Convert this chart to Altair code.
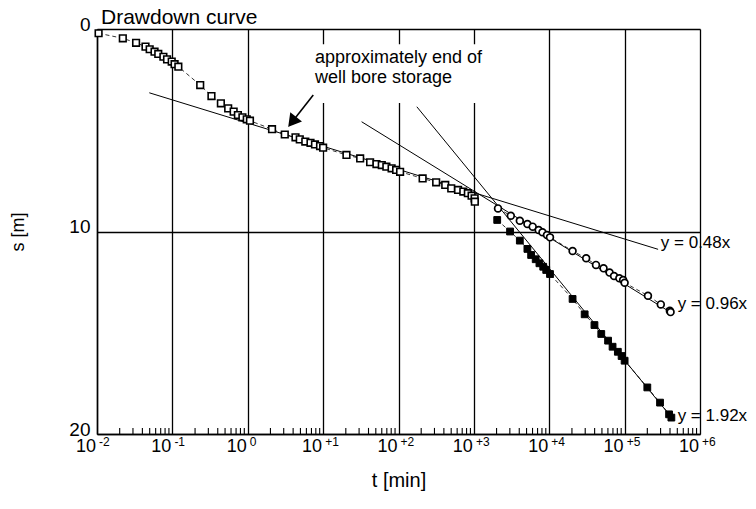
import altair as alt
import pandas as pd

FONT = "Liberation Sans"

# ---------------- data ----------------
# early-time drawdown (open squares)
early_t = [0.0105, 0.022, 0.033, 0.044, 0.050, 0.058, 0.065, 0.076, 0.085, 0.098, 0.107, 0.12,
           0.234, 0.33, 0.44, 0.55, 0.65, 0.74, 0.85, 0.97, 1.07,
           2.1, 3.1, 4.3, 4.9, 5.8, 6.8, 7.8, 9.1, 10.0,
           20.4, 31, 42, 51, 60, 69, 81, 93, 105,
           209, 316, 417, 501, 617, 724, 832, 933, 1023, 1030]
early_s = [0.21, 0.46, 0.68, 0.87, 1.00, 1.12, 1.23, 1.37, 1.50, 1.61, 1.74, 1.86,
           2.77, 3.31, 3.67, 3.92, 4.08, 4.25, 4.36, 4.46, 4.53,
           4.95, 5.21, 5.35, 5.45, 5.56, 5.62, 5.70, 5.78, 5.86,
           6.22, 6.39, 6.58, 6.67, 6.72, 6.80, 6.88, 6.96, 7.05,
           7.38, 7.57, 7.70, 7.87, 7.95, 8.03, 8.11, 8.23, 8.36, 8.53]

# branch following y = 0.96x (circles)
b1_t = [2090, 3090, 4070, 5130, 6030, 7240, 8130, 9330, 10230,
        20400, 30900, 41700, 52500, 63100, 72400, 85100, 95500, 100000,
        204000, 302000, 398000, 407000]
b1_s = [8.86, 9.22, 9.47, 9.63, 9.76, 9.93, 10.04, 10.17, 10.29,
        10.96, 11.32, 11.65, 11.82, 12.03, 12.20, 12.31, 12.40, 12.53,
        13.17, 13.60, 13.91, 13.98]

# branch following y = 1.92x (filled squares)
b2_t = [2040, 3020, 4070, 5130, 5750, 6610, 7410, 8320, 9120, 10230,
        20400, 29500, 39800, 49000, 60300, 69200, 81300, 91200, 100000,
        200000, 295000, 389000, 417000]
b2_s = [9.43, 10.00, 10.45, 10.86, 11.16, 11.37, 11.57, 11.74, 11.90, 12.10,
        13.33, 14.09, 14.62, 15.06, 15.39, 15.69, 15.94, 16.15, 16.38,
        17.70, 18.45, 19.03, 19.19]

# straight-line fits
fit_label = ["y = 0.48x", "y = 0.96x", "y = 1.92x"]
fit_t0 = [0.0494, 32.4, 175]
fit_s0 = [3.15, 4.58, 3.84]
fit_t1 = [278000, 398000, 423000]
fit_s1 = [10.88, 13.97, 19.20]
label_t = [293000, 490000, 490000]
label_s = [10.57, 13.60, 19.12]

# annotation
note_lines = ["approximately end of", "well bore storage"]
note_t = [7.78, 7.78]
note_s = [1.41, 2.43]
note_box_t = [6.7, 1600]
note_box_s = [0.75, 3.65]
arrow_t = [7.4, 3.92]
arrow_s = [3.26, 4.57]

# axis ticks
decades = [1e-2, 1e-1, 1e0, 1e1, 1e2, 1e3, 1e4, 1e5, 1e6]
decade_exp = ["-2", "-1", "0", "+1", "+2", "+3", "+4", "+5", "+6"]
minor_ticks = [m * d for d in decades[:-1] for m in range(2, 10)]
y_ticks = [0, 10, 20]

# ---------------- chart ----------------
W, H = 603, 405
xs = alt.Scale(type="log", domain=[0.01, 1e6], nice=False)
ys = alt.Scale(domain=[0, 20], reverse=True, nice=False, zero=False)

xaxis = alt.Axis(values=decades, grid=True, labels=False, ticks=False, domain=True,
                 title="t [min]", titleFont=FONT, titleFontSize=20, titleFontWeight="normal",
                 titleColor="black", titlePadding=36,
                 gridColor="black", gridWidth=1.3, gridOpacity=1,
                 domainColor="black", domainWidth=1.5)
yaxis = alt.Axis(values=y_ticks, grid=True, ticks=False, domain=True,
                 labelFont=FONT, labelFontSize=19, labelColor="black", labelPadding=7,
                 labelBaseline="alphabetic", labelOffset=1,
                 title="s [m]", titleFont=FONT, titleFontSize=18, titleFontWeight="normal",
                 titleColor="black", titlePadding=41,
                 gridColor="black", gridWidth=1.3, gridOpacity=1,
                 domainColor="black", domainWidth=1.5)


def X(f):
    return alt.X(f, type="quantitative", scale=xs, axis=xaxis)


def Y(f):
    return alt.Y(f, type="quantitative", scale=ys, axis=yaxis)


early = pd.DataFrame({"t": early_t, "s": early_s, "g": "early"})
b1 = pd.DataFrame({"t": b1_t, "s": b1_s, "g": "b1"})
b2 = pd.DataFrame({"t": b2_t, "s": b2_s, "g": "b2"})
alld = pd.concat([early, b1, b2], ignore_index=True)

fits = pd.DataFrame({"lab": fit_label, "t0": fit_t0, "s0": fit_s0, "t1": fit_t1, "s1": fit_s1,
                     "lt": label_t, "ls": label_s})
box = pd.DataFrame({"t0": [note_box_t[0]], "t1": [note_box_t[1]],
                    "s0": [note_box_s[0]], "s1": [note_box_s[1]]})
notes = pd.DataFrame({"txt": note_lines, "t": note_t, "s": note_s})
arrow = pd.DataFrame({"t0": [arrow_t[0]], "s0": [arrow_s[0]], "t1": [arrow_t[1]], "s1": [arrow_s[1]]})
minor = pd.DataFrame({"t": minor_ticks, "s0": 20.0, "s1": 19.7})
ticklab = pd.DataFrame({"t": decades, "base": "10", "exp": decade_exp})

white_box = alt.Chart(box).mark_rect(fill="white").encode(
    x=X("t0"), x2="t1", y=Y("s0"), y2="s1")

fit_lines = alt.Chart(fits).mark_rule(color="black", strokeWidth=1.0).encode(
    x=X("t0"), x2="t1", y=Y("s0"), y2="s1")

connect = alt.Chart(alld).mark_line(color="black", strokeWidth=0.8, strokeDash=[4, 3]).encode(
    x=X("t"), y=Y("s"), detail="g:N", order="t:Q")

minor_rules = alt.Chart(minor).mark_rule(color="black", strokeWidth=1.1).encode(
    x=X("t"), y=Y("s0"), y2="s1")

pts_early = alt.Chart(early).mark_point(shape="square", filled=True, fill="white", stroke="black",
                                        strokeWidth=1.6, size=44, opacity=1).encode(x=X("t"), y=Y("s"))
pts_b1 = alt.Chart(b1).mark_point(shape="circle", filled=True, fill="white", stroke="black",
                                  strokeWidth=1.7, size=46, opacity=1).encode(x=X("t"), y=Y("s"))
pts_b2 = alt.Chart(b2).mark_point(shape="square", filled=True, fill="black", stroke="black",
                                  strokeWidth=1, size=46, opacity=1).encode(x=X("t"), y=Y("s"))

arrow_line = alt.Chart(arrow).mark_rule(color="black", strokeWidth=1.6).encode(
    x=X("t0"), x2="t1", y=Y("s0"), y2="s1")
arrow_head = alt.Chart(arrow).mark_point(shape="triangle-up", filled=True, fill="black", stroke="black",
                                         size=130, angle=218, opacity=1).encode(x=X("t1"), y=Y("s1"))

note_text = alt.Chart(notes).mark_text(font=FONT, fontSize=18, align="left", baseline="middle",
                                       color="black").encode(x=X("t"), y=Y("s"), text="txt:N")

eq_text = alt.Chart(fits).mark_text(font=FONT, fontSize=17, align="left", baseline="middle",
                                    color="black", dx=1).encode(x=X("lt"), y=Y("ls"), text="lab:N")

base_lab = alt.Chart(ticklab).mark_text(font=FONT, fontSize=18, align="right", baseline="alphabetic",
                                        color="black", dx=-1).encode(
    x=X("t"), y=alt.value(H + 18), text="base:N")
exp_lab = alt.Chart(ticklab).mark_text(font=FONT, fontSize=12, align="left", baseline="alphabetic",
                                       color="black", dx=2).encode(
    x=X("t"), y=alt.value(H + 12), text="exp:N")

title_txt = alt.Chart(pd.DataFrame({"txt": ["Drawdown curve"]})).mark_text(
    font=FONT, fontSize=21, align="left", baseline="alphabetic", color="black").encode(
    x=alt.value(4), y=alt.value(-5), text="txt:N")

chart = alt.layer(
    white_box, fit_lines, connect, minor_rules, pts_early, pts_b1, pts_b2,
    arrow_line, arrow_head, note_text, eq_text, base_lab, exp_lab, title_txt
).properties(
    width=W, height=H,
    autosize=alt.AutoSizeParams(type="none"),
    padding={"left": 97, "top": 29, "right": 56, "bottom": 75},
).configure_view(
    stroke="black", strokeWidth=1.5
).configure(background="white")

chart.save("out.html", embed_options={"renderer": "svg", "actions": False})
